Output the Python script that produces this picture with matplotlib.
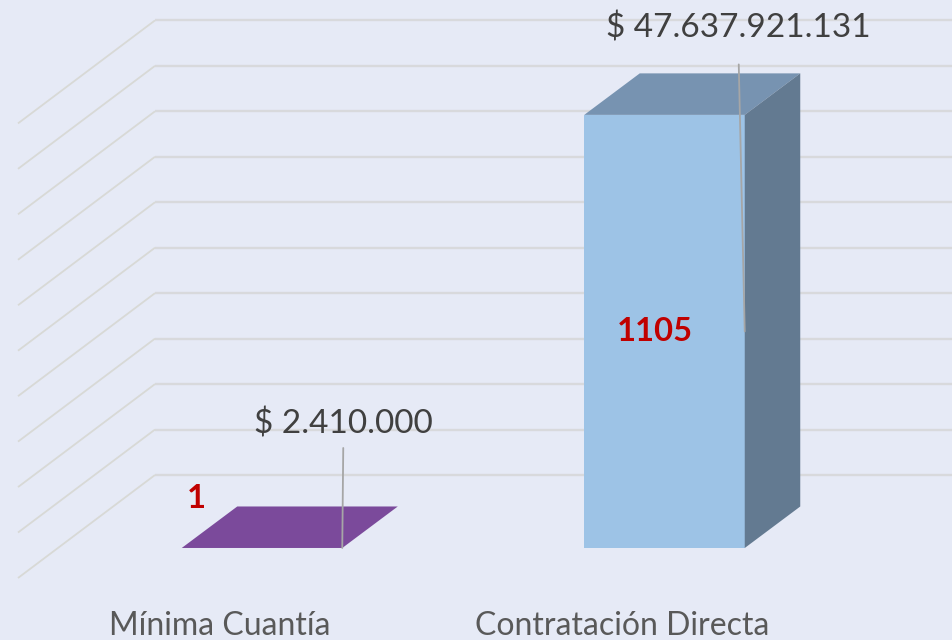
import matplotlib
matplotlib.use("Agg")
import matplotlib.pyplot as plt
from matplotlib.patches import Polygon

categories = ["Mínima Cuantía", "Contratación Directa"]
amounts = [2410000, 47637921131]
counts = [1, 1105]
amount_labels = ["$ 2.410.000", "$ 47.637.921.131"]
grid_values = [0, 5e9, 1e10, 1.5e10, 2e10, 2.5e10, 3e10, 3.5e10, 4e10, 4.5e10, 5e10]

W, H = 953, 640
BG = "#E6EAF6"
PX_X = 1 / 402.5            # category units per pixel
PX_Y = 5e10 / 454.6         # value units per pixel
plt.rcParams['font.family'] = ['Lato', 'DejaVu Sans']

fig = plt.figure(figsize=(W / 100, H / 100), dpi=100, facecolor=BG)
ax = fig.add_axes([0, 0, 1, 1], facecolor=BG)
ax.set_xlim(-262 * PX_X, (W - 262) * PX_X)
ax.set_ylim(-92 * PX_Y, 548 * PX_Y)
ax.axis("off")

bar_w = 160.5 * PX_X
dx, dy = 55.5 * PX_X, 41.5 * PX_Y
colors = [
    ("#7B4A9B", "#7B4A9B", "#7B4A9B"),
    ("#9DC3E6", "#7793B1", "#637A91"),
]

# walls
x_back = (155 - 262) * PX_X
x_front = (18 - 262) * PX_X
lift_back = 73 * PX_Y
lift_front = -30 * PX_Y
x_right = (W - 262) * PX_X
for v in grid_values:
    ax.plot([x_back, x_right], [v + lift_back] * 2, color="#D8D9DC", lw=1.7, zorder=1,
            solid_capstyle="butt")
    ax.plot([x_front, x_back], [v + lift_front, v + lift_back], color="#D8D9D6", lw=1.3, zorder=1,
            solid_capstyle="butt", solid_joinstyle="miter")

for i, (amt, cnt, alab) in enumerate(zip(amounts, counts, amount_labels)):
    l, r = i - bar_w / 2, i + bar_w / 2
    cf, ct, cs = colors[i]
    ax.add_patch(Polygon([(l, 0), (r, 0), (r, amt), (l, amt)], fc=cf, ec="none", zorder=2))
    ax.add_patch(Polygon([(l, amt), (r, amt), (r + dx, amt + dy), (l + dx, amt + dy)],
                         fc=ct, ec="none", zorder=2))
    ax.add_patch(Polygon([(r, 0), (r + dx, dy), (r + dx, amt + dy), (r, amt)],
                         fc=cs, ec="none", zorder=2))
    ax.text(i - 42 * PX_X, -78 * PX_Y, categories[i], ha="center", va="center", fontsize=23,
            color="#595959", zorder=5)

# leader lines and amount labels
leaders = [(1, 100), (-6, 267)]
label_off = [(1, 124), (-6.5, 303)]
for i, amt in enumerate(amounts):
    r = i + bar_w / 2
    ax.annotate("", xy=(r, amt / 2), xytext=leaders[i], textcoords="offset pixels",
                arrowprops=dict(arrowstyle="-", color="#A6A6A6", lw=1.3, shrinkA=0, shrinkB=0), zorder=4)
    ax.annotate(amount_labels[i], xy=(r, amt / 2), xytext=label_off[i], textcoords="offset pixels",
                ha="center", va="center", fontsize=24.0, color="#404040", zorder=5)

# counts
ax.annotate(str(counts[0]), xy=(0, 0), xytext=(196 - 262, 50), textcoords="offset pixels",
            ha="center", va="center", fontsize=23.6, fontweight="bold", color="#C00000", zorder=5)
ax.annotate(str(counts[1]), xy=(1, amounts[1] / 2), xytext=(-9.5, 0), textcoords="offset pixels",
            ha="center", va="center", fontsize=23.6, fontweight="bold", color="#C00000", zorder=5)

fig.savefig("out.png", dpi=100, facecolor=BG)
